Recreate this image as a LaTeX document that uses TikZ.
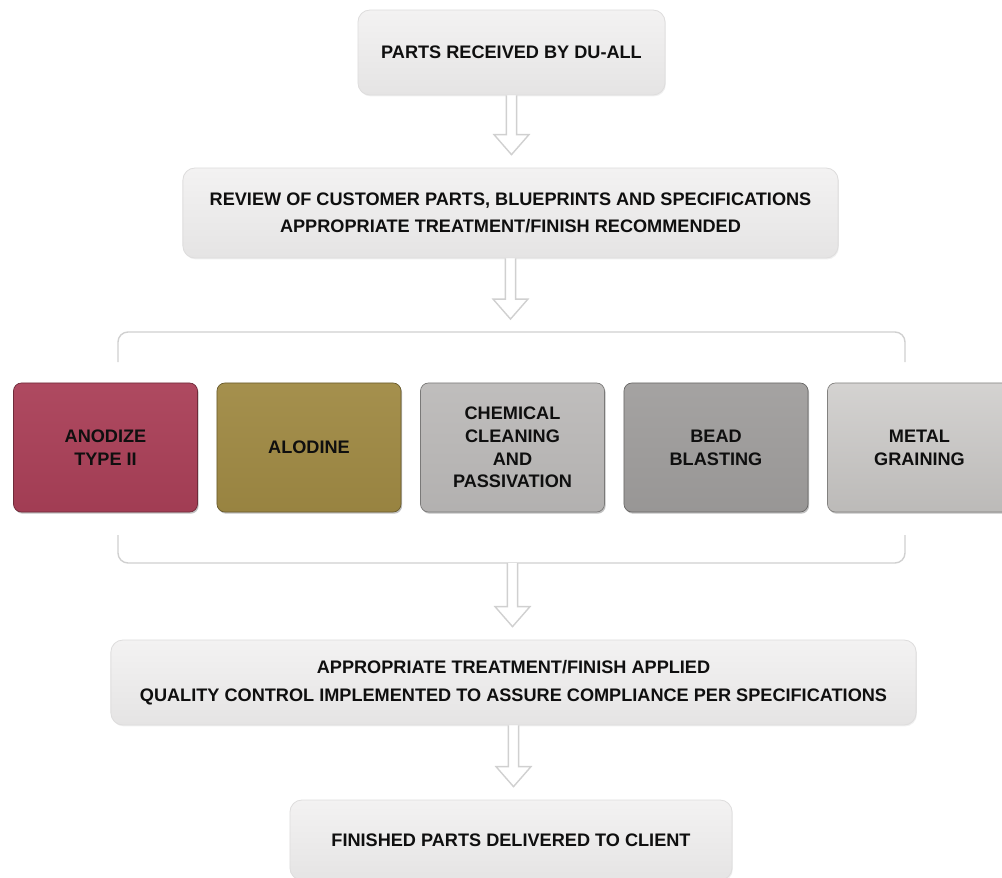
\documentclass[tikz,border=0pt]{standalone}
\usepackage{fontspec}
\setmainfont{Liberation Sans}
\usetikzlibrary{calc,shadows}

\definecolor{boxtop}{RGB}{243,242,242}
\definecolor{boxbot}{RGB}{229,228,228}
\definecolor{boxedge}{RGB}{222,221,221}
\definecolor{arrowgray}{RGB}{208,208,208}
\definecolor{inktext}{RGB}{15,15,15}
\definecolor{anodize}{RGB}{170,64,88}
\definecolor{alodine}{RGB}{160,138,68}
\definecolor{chemical}{RGB}{188,186,185}
\definecolor{bead}{RGB}{160,158,157}
\definecolor{metal}{RGB}{200,198,196}

\tikzset{
  flowtext/.style={text=inktext, font=\fontsize{12.9}{19.5}\selectfont\bfseries, align=center},
  stepbox/.style={flowtext, rounded corners=0.3cm, draw=boxedge, line width=0.6pt,
    top color=boxtop, bottom color=boxbot,
    drop shadow={shadow xshift=0.6pt, shadow yshift=-1pt, opacity=0.12}},
  procbox/.style={flowtext, font=\fontsize{12.9}{16.2}\selectfont\bfseries,
    rounded corners=0.2cm, minimum width=4.6cm, minimum height=3.225cm,
    draw=#1!65!black, line width=0.5pt, top color=#1!95!white, bottom color=#1!95!black,
    drop shadow={shadow xshift=0.8pt, shadow yshift=-1.2pt, opacity=0.5}},
  bracket/.style={draw=arrowgray, line width=1pt, rounded corners=0.25cm},
  arrowline/.style={draw=arrowgray, line width=1pt, line join=miter},
}

% hollow arrow from a point down to just above another point
\newcommand{\flowarrow}[2]{%
  \fill[white] let \p1=#1, \p2=#2 in
    (\x1-3.6pt,\y1) -- (\x1-3.6pt,\y2+23.4pt) -- (\x1-12.4pt,\y2+23.4pt) -- (\x1,\y2+9.2pt)
    -- (\x1+12.4pt,\y2+23.4pt) -- (\x1+3.6pt,\y2+23.4pt) -- (\x1+3.6pt,\y1) -- cycle;
  \draw[arrowline] let \p1=#1, \p2=#2 in
    (\x1-3.6pt,\y1) -- (\x1-3.6pt,\y2+23.4pt) -- (\x1-12.4pt,\y2+23.4pt) -- (\x1,\y2+9.2pt)
    -- (\x1+12.4pt,\y2+23.4pt) -- (\x1+3.6pt,\y2+23.4pt) -- (\x1+3.6pt,\y1);
}

\begin{document}
\begin{tikzpicture}[x=0.025cm, y=-0.025cm]
    \useasboundingbox (0,0) rectangle (1002,877);

    \node[stepbox, minimum width=7.675cm, minimum height=2.125cm] (recv) at (511.5,52.5) {PARTS RECEIVED BY DU-ALL};
    \node[stepbox, minimum width=16.375cm, minimum height=2.25cm] (review) at (510.5,213)
        {REVIEW OF CUSTOMER PARTS, BLUEPRINTS AND SPECIFICATIONS\\APPROPRIATE TREATMENT/FINISH RECOMMENDED};

    \coordinate (bracktop) at (511.5,332);
    \coordinate (brackbot) at (512.5,563);
    \draw[bracket] (118,362) |- (bracktop) -| (905,362);
    \draw[bracket] (118,535) |- (brackbot) -| (905,535);

    \node[procbox=anodize] (anodize) at (105.5,447.5) {ANODIZE\\TYPE II};
    \node[procbox=alodine] (alodine) at (309,447.5) {ALODINE};
    \node[procbox=chemical] (chemical) at (512.5,447.5) {CHEMICAL\\CLEANING\\AND\\PASSIVATION};
    \node[procbox=bead] (bead) at (716,447.5) {BEAD\\BLASTING};
    \node[procbox=metal, top color=metal!78!white, bottom color=metal!94!black] (metal) at (919.5,447.5) {METAL\\GRAINING};

    \node[stepbox, minimum width=20.125cm, minimum height=2.125cm] (apply) at (513.5,682.5)
        {APPROPRIATE TREATMENT/FINISH APPLIED\\QUALITY CONTROL IMPLEMENTED TO ASSURE COMPLIANCE PER SPECIFICATIONS};
    \node[stepbox, minimum width=11.05cm, minimum height=2cm] (deliver) at (511,840) {FINISHED PARTS DELIVERED TO CLIENT};

    \flowarrow{(recv.south)}{(review.north)}
    \flowarrow{(review.south)}{(bracktop)}
    \flowarrow{(brackbot)}{(apply.north)}
    \flowarrow{(apply.south)}{(deliver.north)}
\end{tikzpicture}
\end{document}
